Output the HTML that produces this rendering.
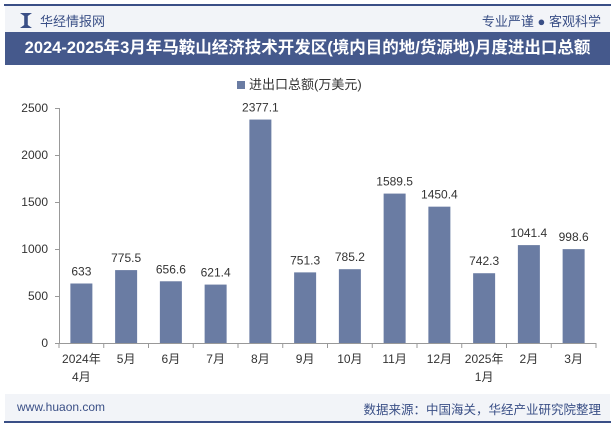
<!DOCTYPE html>
<html><head><meta charset="utf-8"><style>
body{margin:0;width:615px;height:427px;overflow:hidden;background:#fff;font-family:"Liberation Sans","Noto Sans CJK SC",sans-serif;position:relative}
.abs{position:absolute}
</style></head><body>
<div class="abs" style="left:4px;top:4px;width:607px;height:2px;background:#3a4f86"></div>
<div class="abs" style="left:5px;top:6px;width:605px;height:26px;background:#f2f4f8"></div>
<div class="abs" style="left:20px;top:13px;width:12px;height:15px;background:#3a4f86;clip-path:polygon(0 0,35% 20%,35% 80%,0 100%,100% 100%,65% 80%,65% 20%,100% 0)"></div>
<div class="abs" style="left:40px;top:11px;font-size:13px;color:#3a4f86">华经情报网</div>
<div class="abs" style="right:14px;top:11px;font-size:13px;color:#3a4f86">专业严谨 ● 客观科学</div>
<div class="abs" style="left:5px;top:32px;width:605px;height:33px;background:#45598c;color:#fff;font-weight:bold;font-size:16.5px;line-height:33px;text-align:center">2024-2025年3月年马鞍山经济技术开发区(境内目的地/货源地)月度进出口总额</div>
<div class="abs" style="left:237px;top:74px;font-size:13px;color:#333"><span style="display:inline-block;width:8px;height:8px;background:#6a7ca3;margin-right:4px"></span>进出口总额(万美元)</div>
<svg class="abs" style="left:0;top:0" width="615" height="427" id="chart"></svg>
<div class="abs" style="left:5px;top:394px;width:605px;height:28px;background:#f2f4f8"></div>
<div class="abs" style="left:4px;top:421px;width:607px;height:2px;background:#3a4f86"></div>
<div class="abs" style="left:17px;top:400px;font-size:12px;color:#3a4f86">www.huaon.com</div>
<div class="abs" style="right:14px;top:399px;font-size:12.5px;color:#3a4f86">数据来源：中国海关，华经产业研究院整理</div>
<script>
const categories=["2024年|4月","5月","6月","7月","8月","9月","10月","11月","12月","2025年|1月","2月","3月"];
const values=[633,775.5,656.6,621.4,2377.1,751.3,785.2,1589.5,1450.4,742.3,1041.4,998.6];
const yTicks=[0,500,1000,1500,2000,2500];
const svg=document.getElementById('chart');const NS='http://www.w3.org/2000/svg';
const x0=59,x1=596,y0=343,yTop=108,maxV=2500;
const bw=(x1-x0)/categories.length;
const y=v=>y0-(v/maxV)*(y0-yTop);
const xc=i=>x0+bw*(i+0.5);
function mk(t,a){const e=document.createElementNS(NS,t);for(const k in a)e.setAttribute(k,a[k]);svg.appendChild(e);return e;}
yTicks.forEach(t=>{const e=mk('text',{x:48,y:y(t)+4,'text-anchor':'end','font-size':12,fill:'#333'});e.textContent=t;


const tk=mk('line',{x1:x0-4,y1:Math.round(y(t))+0.5,x2:x0,y2:Math.round(y(t))+0.5,stroke:'#999'});

});
const yax=mk('line',{x1:x0+0.5,y1:yTop,x2:x0+0.5,y2:y0,stroke:'#999'});


values.forEach((v,i)=>{const r=mk('rect',{x:xc(i)-11,y:y(v),width:22,height:y0-y(v),fill:'#6a7ca3'});


const t=mk('text',{x:xc(i),y:y(v)-8,'text-anchor':'middle','font-size':12,fill:'#333'});t.textContent=v;


const parts=categories[i].split('|');parts.forEach((p,j)=>{const c=mk('text',{x:xc(i),y:363+j*18,'text-anchor':'middle','font-size':12,fill:'#333'});c.textContent=p;

});});
const ax=mk('line',{x1:x0,y1:y0+0.5,x2:x1,y2:y0+0.5,stroke:'#999'});


for(let i=0;i<=categories.length;i++){const tk=mk('line',{x1:x0+bw*i,y1:y0,x2:x0+bw*i,y2:y0+5,stroke:'#999'});

}
</script>
</body></html>
